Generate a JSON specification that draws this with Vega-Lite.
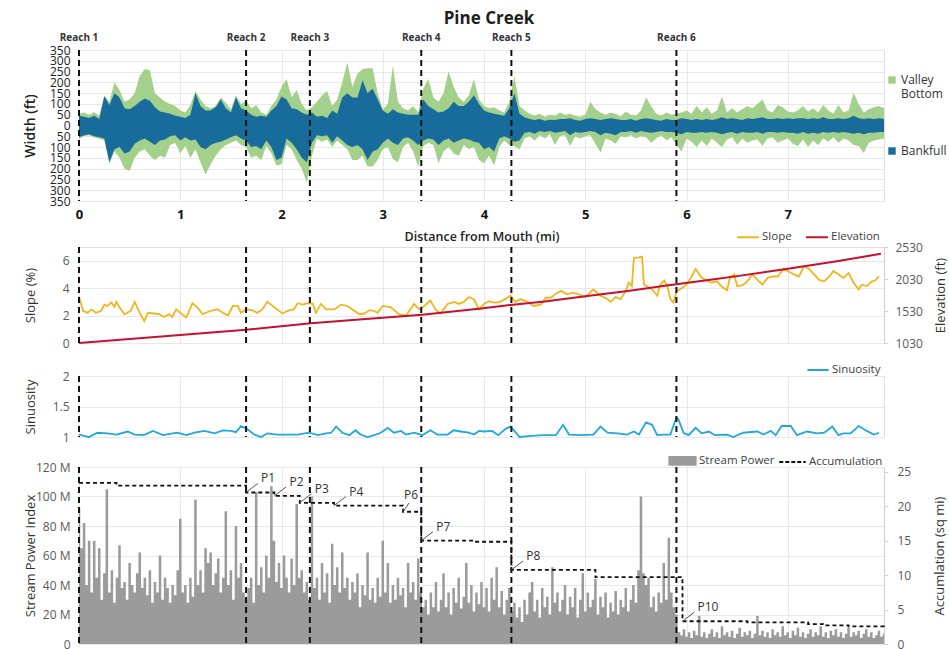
{
  "$schema": "https://vega.github.io/schema/vega-lite/v6.json",
  "padding": {"left": 22, "top": 10, "right": 2, "bottom": 0},
  "background": "white",
  "title": {"text": "Pine Creek", "fontSize": 17, "font": "Open Sans", "fontWeight": "bold", "color": "#1e1e1e", "anchor": "middle", "offset": 4, "dx": 4},
  "config": {
    "font": "Open Sans",
    "view": {"stroke": "#dedede", "strokeWidth": 1},
    "axis": {"labelFont": "Open Sans", "titleFont": "Open Sans", "labelColor": "#595959", "labelFontSize": 12, "titleColor": "#333333", "titleFontSize": 13, "titleFontWeight": "normal", "gridColor": "#e8e8e8", "domain": false, "ticks": false, "labelPadding": 9},
    "legend": {"labelFont": "Open Sans", "labelFontSize": 11.5, "labelColor": "#404040"}
  },
  "datasets": {
    "reaches": [{"d":0,"reach":"Reach 1"},{"d":1.65,"reach":"Reach 2"},{"d":2.28,"reach":"Reach 3"},{"d":3.38,"reach":"Reach 4"},{"d":4.27,"reach":"Reach 5"},{"d":5.9,"reach":"Reach 6"}],
    "width": [
      {"d":0.00,"vt":55,"vb":-60,"bt":45,"bb":-55},{"d":0.05,"vt":60,"vb":-50,"bt":40,"bb":-45},{"d":0.10,"vt":50,"vb":-45,"bt":35,"bb":-40},{"d":0.15,"vt":62,"vb":-55,"bt":45,"bb":-50},{"d":0.20,"vt":45,"vb":-62,"bt":30,"bb":-55},
      {"d":0.25,"vt":140,"vb":-70,"bt":135,"bb":-60},{"d":0.30,"vt":110,"vb":-175,"bt":95,"bb":-170},{"d":0.35,"vt":200,"vb":-120,"bt":150,"bb":-110},{"d":0.40,"vt":165,"vb":-150,"bt":130,"bb":-100},{"d":0.45,"vt":110,"vb":-200,"bt":80,"bb":-130},
      {"d":0.50,"vt":120,"vb":-210,"bt":75,"bb":-120},{"d":0.55,"vt":150,"vb":-150,"bt":90,"bb":-85},{"d":0.60,"vt":230,"vb":-120,"bt":110,"bb":-70},{"d":0.65,"vt":262,"vb":-110,"bt":125,"bb":-60},{"d":0.70,"vt":255,"vb":-140,"bt":115,"bb":-75},
      {"d":0.75,"vt":150,"vb":-160,"bt":85,"bb":-90},{"d":0.80,"vt":130,"vb":-140,"bt":65,"bb":-70},{"d":0.85,"vt":110,"vb":-150,"bt":60,"bb":-65},{"d":0.90,"vt":100,"vb":-90,"bt":55,"bb":-50},{"d":0.95,"vt":90,"vb":-80,"bt":45,"bb":-45},
      {"d":1.00,"vt":70,"vb":-130,"bt":40,"bb":-70},{"d":1.05,"vt":60,"vb":-95,"bt":35,"bb":-55},{"d":1.10,"vt":95,"vb":-150,"bt":50,"bb":-70},{"d":1.15,"vt":160,"vb":-110,"bt":150,"bb":-65},{"d":1.20,"vt":120,"vb":-170,"bt":90,"bb":-100},
      {"d":1.25,"vt":90,"vb":-228,"bt":70,"bb":-110},{"d":1.30,"vt":80,"vb":-180,"bt":70,"bb":-90},{"d":1.35,"vt":90,"vb":-140,"bt":85,"bb":-80},{"d":1.40,"vt":130,"vb":-110,"bt":120,"bb":-75},{"d":1.45,"vt":105,"vb":-90,"bt":80,"bb":-65},
      {"d":1.50,"vt":75,"vb":-80,"bt":60,"bb":-55},{"d":1.55,"vt":140,"vb":-70,"bt":130,"bb":-45},{"d":1.60,"vt":100,"vb":-90,"bt":80,"bb":-60},{"d":1.65,"vt":115,"vb":-100,"bt":70,"bb":-70},{"d":1.70,"vt":80,"vb":-150,"bt":50,"bb":-100},
      {"d":1.75,"vt":95,"vb":-140,"bt":40,"bb":-95},{"d":1.80,"vt":60,"vb":-160,"bt":45,"bb":-110},{"d":1.85,"vt":50,"vb":-95,"bt":40,"bb":-70},{"d":1.90,"vt":90,"vb":-130,"bt":70,"bb":-100},{"d":1.95,"vt":120,"vb":-185,"bt":90,"bb":-160},
      {"d":2.00,"vt":180,"vb":-180,"bt":135,"bb":-150},{"d":2.05,"vt":215,"vb":-90,"bt":120,"bb":-60},{"d":2.10,"vt":130,"vb":-110,"bt":80,"bb":-80},{"d":2.15,"vt":165,"vb":-160,"bt":75,"bb":-110},{"d":2.20,"vt":100,"vb":-200,"bt":60,"bb":-150},
      {"d":2.25,"vt":70,"vb":-265,"bt":50,"bb":-170},{"d":2.30,"vt":85,"vb":-140,"bt":60,"bb":-80},{"d":2.35,"vt":110,"vb":-60,"bt":40,"bb":-45},{"d":2.40,"vt":140,"vb":-75,"bt":45,"bb":-50},{"d":2.45,"vt":160,"vb":-65,"bt":35,"bb":-45},
      {"d":2.50,"vt":90,"vb":-100,"bt":70,"bb":-80},{"d":2.55,"vt":120,"vb":-70,"bt":55,"bb":-50},{"d":2.60,"vt":200,"vb":-90,"bt":130,"bb":-70},{"d":2.65,"vt":292,"vb":-110,"bt":150,"bb":-90},{"d":2.70,"vt":180,"vb":-160,"bt":130,"bb":-100},
      {"d":2.75,"vt":240,"vb":-160,"bt":130,"bb":-90},{"d":2.80,"vt":262,"vb":-140,"bt":210,"bb":-110},{"d":2.85,"vt":265,"vb":-190,"bt":150,"bb":-160},{"d":2.90,"vt":265,"vb":-190,"bt":170,"bb":-120},{"d":2.95,"vt":150,"vb":-160,"bt":120,"bb":-110},
      {"d":3.00,"vt":75,"vb":-110,"bt":70,"bb":-80},{"d":3.05,"vt":100,"vb":-100,"bt":55,"bb":-60},{"d":3.10,"vt":277,"vb":-155,"bt":75,"bb":-80},{"d":3.15,"vt":110,"vb":-170,"bt":60,"bb":-90},{"d":3.20,"vt":80,"vb":-100,"bt":55,"bb":-60},
      {"d":3.25,"vt":70,"vb":-80,"bt":50,"bb":-55},{"d":3.30,"vt":90,"vb":-120,"bt":50,"bb":-70},{"d":3.35,"vt":60,"vb":-190,"bt":50,"bb":-90},{"d":3.40,"vt":170,"vb":-95,"bt":120,"bb":-70},{"d":3.45,"vt":215,"vb":-80,"bt":90,"bb":-60},
      {"d":3.50,"vt":130,"vb":-90,"bt":75,"bb":-65},{"d":3.55,"vt":110,"vb":-175,"bt":60,"bb":-90},{"d":3.60,"vt":150,"vb":-120,"bt":65,"bb":-70},{"d":3.65,"vt":250,"vb":-100,"bt":80,"bb":-60},{"d":3.70,"vt":180,"vb":-130,"bt":110,"bb":-80},
      {"d":3.75,"vt":130,"vb":-140,"bt":90,"bb":-70},{"d":3.80,"vt":110,"vb":-90,"bt":90,"bb":-60},{"d":3.85,"vt":140,"vb":-110,"bt":110,"bb":-65},{"d":3.90,"vt":215,"vb":-100,"bt":140,"bb":-75},{"d":3.95,"vt":120,"vb":-160,"bt":100,"bb":-80},
      {"d":4.00,"vt":90,"vb":-175,"bt":70,"bb":-110},{"d":4.05,"vt":80,"vb":-140,"bt":60,"bb":-100},{"d":4.10,"vt":85,"vb":-185,"bt":55,"bb":-120},{"d":4.15,"vt":70,"vb":-100,"bt":50,"bb":-60},{"d":4.20,"vt":60,"vb":-70,"bt":45,"bb":-50},
      {"d":4.25,"vt":110,"vb":-90,"bt":80,"bb":-60},{"d":4.30,"vt":230,"vb":-95,"bt":150,"bb":-75},{"d":4.35,"vt":90,"vb":-110,"bt":55,"bb":-70},{"d":4.40,"vt":70,"vb":-60,"bt":38,"bb":-34},{"d":4.45,"vt":55,"vb":-50,"bt":30,"bb":-30},
      {"d":4.50,"vt":45,"vb":-70,"bt":26,"bb":-38},{"d":4.55,"vt":55,"vb":-45,"bt":30,"bb":-26},{"d":4.60,"vt":40,"vb":-60,"bt":22,"bb":-30},{"d":4.65,"vt":50,"vb":-40,"bt":27,"bb":-26},{"d":4.70,"vt":45,"vb":-90,"bt":26,"bb":-34},
      {"d":4.75,"vt":60,"vb":-50,"bt":30,"bb":-30},{"d":4.80,"vt":50,"vb":-45,"bt":30,"bb":-26},{"d":4.85,"vt":55,"vb":-95,"bt":34,"bb":-45},{"d":4.90,"vt":45,"vb":-50,"bt":26,"bb":-30},{"d":4.95,"vt":40,"vb":-60,"bt":22,"bb":-34},
      {"d":5.00,"vt":50,"vb":-50,"bt":30,"bb":-30},{"d":5.05,"vt":110,"vb":-45,"bt":34,"bb":-26},{"d":5.10,"vt":75,"vb":-85,"bt":30,"bb":-30},{"d":5.15,"vt":60,"vb":-125,"bt":26,"bb":-45},{"d":5.20,"vt":50,"vb":-60,"bt":30,"bb":-34},
      {"d":5.25,"vt":60,"vb":-70,"bt":34,"bb":-38},{"d":5.30,"vt":55,"vb":-85,"bt":30,"bb":-45},{"d":5.35,"vt":40,"vb":-50,"bt":26,"bb":-30},{"d":5.40,"vt":65,"vb":-55,"bt":26,"bb":-30},{"d":5.45,"vt":50,"vb":-45,"bt":30,"bb":-26},
      {"d":5.50,"vt":45,"vb":-60,"bt":22,"bb":-34},{"d":5.55,"vt":70,"vb":-50,"bt":30,"bb":-26},{"d":5.60,"vt":130,"vb":-55,"bt":34,"bb":-30},{"d":5.65,"vt":90,"vb":-80,"bt":30,"bb":-34},{"d":5.70,"vt":55,"vb":-60,"bt":26,"bb":-30},
      {"d":5.75,"vt":45,"vb":-45,"bt":22,"bb":-26},{"d":5.80,"vt":60,"vb":-70,"bt":30,"bb":-30},{"d":5.85,"vt":50,"vb":-55,"bt":26,"bb":-30},{"d":5.90,"vt":55,"vb":-90,"bt":26,"bb":-34},{"d":5.95,"vt":60,"vb":-120,"bt":34,"bb":-41},
      {"d":6.00,"vt":70,"vb":-60,"bt":30,"bb":-30},{"d":6.05,"vt":55,"vb":-75,"bt":26,"bb":-34},{"d":6.10,"vt":90,"vb":-100,"bt":30,"bb":-34},{"d":6.15,"vt":60,"vb":-70,"bt":26,"bb":-30},{"d":6.20,"vt":85,"vb":-95,"bt":30,"bb":-34},
      {"d":6.25,"vt":55,"vb":-60,"bt":26,"bb":-30},{"d":6.30,"vt":70,"vb":-80,"bt":30,"bb":-34},{"d":6.35,"vt":135,"vb":-100,"bt":38,"bb":-41},{"d":6.40,"vt":60,"vb":-65,"bt":30,"bb":-34},{"d":6.45,"vt":80,"vb":-55,"bt":34,"bb":-30},
      {"d":6.50,"vt":60,"vb":-90,"bt":30,"bb":-38},{"d":6.55,"vt":75,"vb":-60,"bt":26,"bb":-30},{"d":6.60,"vt":90,"vb":-80,"bt":34,"bb":-34},{"d":6.65,"vt":80,"vb":-70,"bt":30,"bb":-34},{"d":6.70,"vt":100,"vb":-65,"bt":34,"bb":-30},
      {"d":6.75,"vt":120,"vb":-95,"bt":38,"bb":-38},{"d":6.80,"vt":70,"vb":-60,"bt":30,"bb":-30},{"d":6.85,"vt":60,"vb":-55,"bt":30,"bb":-30},{"d":6.90,"vt":95,"vb":-80,"bt":34,"bb":-34},{"d":6.95,"vt":85,"vb":-70,"bt":30,"bb":-30},
      {"d":7.00,"vt":65,"vb":-60,"bt":34,"bb":-34},{"d":7.05,"vt":60,"vb":-85,"bt":30,"bb":-34},{"d":7.10,"vt":70,"vb":-95,"bt":34,"bb":-38},{"d":7.15,"vt":90,"vb":-65,"bt":34,"bb":-30},{"d":7.20,"vt":65,"vb":-100,"bt":30,"bb":-38},
      {"d":7.25,"vt":80,"vb":-70,"bt":34,"bb":-34},{"d":7.30,"vt":60,"vb":-90,"bt":30,"bb":-38},{"d":7.35,"vt":95,"vb":-60,"bt":38,"bb":-30},{"d":7.40,"vt":70,"vb":-75,"bt":30,"bb":-34},{"d":7.45,"vt":55,"vb":-55,"bt":30,"bb":-30},
      {"d":7.50,"vt":95,"vb":-80,"bt":34,"bb":-34},{"d":7.55,"vt":60,"vb":-60,"bt":30,"bb":-30},{"d":7.60,"vt":70,"vb":-70,"bt":34,"bb":-34},{"d":7.65,"vt":152,"vb":-90,"bt":45,"bb":-38},{"d":7.70,"vt":100,"vb":-95,"bt":34,"bb":-34},
      {"d":7.75,"vt":60,"vb":-128,"bt":30,"bb":-41},{"d":7.80,"vt":75,"vb":-80,"bt":34,"bb":-34},{"d":7.85,"vt":85,"vb":-70,"bt":30,"bb":-34},{"d":7.90,"vt":90,"vb":-65,"bt":34,"bb":-30},{"d":7.95,"vt":80,"vb":-60,"bt":30,"bb":-30}
    ],
    "slope": [
      {"d":0,"s":3.4},{"d":0.04,"s":2.35},{"d":0.085,"s":2.2},{"d":0.12,"s":2.45},{"d":0.17,"s":2.2},{"d":0.22,"s":2.35},{"d":0.25,"s":2.8},{"d":0.28,"s":2.7},{"d":0.32,"s":2.95},{"d":0.35,"s":2.65},{"d":0.37,"s":3.0},{"d":0.4,"s":2.6},{"d":0.45,"s":2.1},{"d":0.51,"s":2.35},{"d":0.55,"s":3.0},{"d":0.6,"s":2.2},{"d":0.645,"s":1.6},{"d":0.68,"s":2.2},{"d":0.74,"s":2.15},{"d":0.79,"s":2.1},{"d":0.84,"s":1.9},{"d":0.89,"s":2.1},{"d":0.92,"s":1.9},{"d":0.96,"s":2.45},{"d":1.0,"s":2.2},{"d":1.06,"s":1.85},{"d":1.12,"s":2.9},{"d":1.17,"s":2.6},{"d":1.22,"s":2.1},{"d":1.3,"s":2.35},{"d":1.37,"s":2.45},{"d":1.42,"s":2.2},{"d":1.47,"s":2.0},{"d":1.52,"s":2.7},{"d":1.57,"s":2.7},{"d":1.6,"s":2.2},{"d":1.65,"s":2.45},{"d":1.71,"s":2.4},{"d":1.76,"s":2.2},{"d":1.81,"s":2.45},{"d":1.86,"s":3.0},{"d":1.93,"s":2.6},{"d":2.01,"s":2.15},{"d":2.06,"s":2.35},{"d":2.12,"s":2.45},{"d":2.16,"s":2.9},{"d":2.21,"s":2.8},{"d":2.26,"s":2.9},{"d":2.31,"s":2.85},{"d":2.34,"s":2.2},{"d":2.39,"s":2.85},{"d":2.44,"s":2.45},{"d":2.52,"s":2.45},{"d":2.59,"s":2.8},{"d":2.65,"s":2.7},{"d":2.7,"s":2.45},{"d":2.77,"s":2.1},{"d":2.82,"s":2.15},{"d":2.87,"s":2.4},{"d":2.91,"s":2.35},{"d":2.95,"s":2.2},{"d":3.0,"s":2.7},{"d":3.08,"s":2.6},{"d":3.16,"s":2.1},{"d":3.23,"s":2.0},{"d":3.31,"s":2.85},{"d":3.36,"s":2.45},{"d":3.41,"s":2.7},{"d":3.47,"s":3.1},{"d":3.52,"s":2.45},{"d":3.57,"s":2.15},{"d":3.64,"s":2.85},{"d":3.71,"s":3.0},{"d":3.75,"s":2.85},{"d":3.8,"s":3.0},{"d":3.85,"s":3.35},{"d":3.9,"s":3.2},{"d":3.95,"s":2.45},{"d":4.0,"s":2.85},{"d":4.05,"s":3.05},{"d":4.1,"s":2.95},{"d":4.16,"s":3.0},{"d":4.21,"s":3.2},{"d":4.26,"s":3.45},{"d":4.31,"s":3.0},{"d":4.36,"s":3.2},{"d":4.43,"s":3.0},{"d":4.49,"s":2.7},{"d":4.56,"s":2.8},{"d":4.61,"s":3.3},{"d":4.66,"s":3.3},{"d":4.71,"s":3.6},{"d":4.76,"s":3.8},{"d":4.82,"s":3.55},{"d":4.87,"s":3.65},{"d":4.92,"s":3.6},{"d":5.0,"s":3.35},{"d":5.08,"s":3.9},{"d":5.15,"s":3.45},{"d":5.22,"s":3.2},{"d":5.25,"s":3.0},{"d":5.3,"s":3.35},{"d":5.35,"s":3.2},{"d":5.4,"s":3.8},{"d":5.43,"s":4.4},{"d":5.46,"s":4.15},{"d":5.48,"s":6.2},{"d":5.53,"s":6.25},{"d":5.56,"s":6.3},{"d":5.58,"s":4.25},{"d":5.61,"s":4.15},{"d":5.66,"s":3.9},{"d":5.71,"s":3.45},{"d":5.74,"s":4.25},{"d":5.78,"s":4.55},{"d":5.81,"s":4.15},{"d":5.84,"s":3.2},{"d":5.87,"s":2.95},{"d":5.9,"s":3.75},{"d":5.95,"s":4.0},{"d":6.0,"s":4.25},{"d":6.05,"s":4.85},{"d":6.09,"s":5.4},{"d":6.14,"s":4.85},{"d":6.19,"s":4.6},{"d":6.24,"s":4.4},{"d":6.3,"s":4.5},{"d":6.35,"s":4.1},{"d":6.4,"s":3.85},{"d":6.43,"s":4.8},{"d":6.47,"s":5.0},{"d":6.5,"s":4.15},{"d":6.55,"s":4.2},{"d":6.6,"s":4.5},{"d":6.65,"s":5.0},{"d":6.7,"s":4.6},{"d":6.75,"s":4.25},{"d":6.8,"s":4.75},{"d":6.85,"s":4.85},{"d":6.9,"s":4.85},{"d":6.96,"s":5.4},{"d":7.01,"s":5.2},{"d":7.06,"s":5.0},{"d":7.11,"s":4.85},{"d":7.16,"s":5.6},{"d":7.21,"s":5.4},{"d":7.26,"s":5.0},{"d":7.31,"s":4.6},{"d":7.36,"s":4.5},{"d":7.41,"s":4.85},{"d":7.45,"s":5.25},{"d":7.5,"s":5.0},{"d":7.55,"s":4.75},{"d":7.6,"s":5.1},{"d":7.65,"s":4.4},{"d":7.7,"s":3.9},{"d":7.73,"s":4.25},{"d":7.78,"s":4.15},{"d":7.83,"s":4.5},{"d":7.86,"s":4.55},{"d":7.9,"s":4.85}
    ],
    "elev": [
      {"d":0,"e":1030},{"d":0.5,"e":1092},{"d":1.0,"e":1155},{"d":1.65,"e":1237},{"d":2.29,"e":1340},{"d":2.8,"e":1400},{"d":3.39,"e":1470},{"d":3.97,"e":1570},{"d":4.26,"e":1625},{"d":4.6,"e":1680},{"d":5.02,"e":1765},{"d":5.4,"e":1840},{"d":5.84,"e":1935},{"d":6.2,"e":2010},{"d":6.5,"e":2075},{"d":7.0,"e":2190},{"d":7.5,"e":2310},{"d":7.92,"e":2425}
    ],
    "sin": [
      {"d":0,"n":1.04},{"d":0.1,"n":1.0},{"d":0.18,"n":1.07},{"d":0.28,"n":1.06},{"d":0.37,"n":1.04},{"d":0.48,"n":1.09},{"d":0.55,"n":1.04},{"d":0.64,"n":1.03},{"d":0.73,"n":1.1},{"d":0.83,"n":1.03},{"d":0.97,"n":1.07},{"d":1.06,"n":1.03},{"d":1.14,"n":1.07},{"d":1.24,"n":1.1},{"d":1.34,"n":1.06},{"d":1.42,"n":1.11},{"d":1.5,"n":1.1},{"d":1.55,"n":1.08},{"d":1.6,"n":1.18},{"d":1.66,"n":1.13},{"d":1.73,"n":1.04},{"d":1.8,"n":1.0},{"d":1.86,"n":1.06},{"d":1.96,"n":1.04},{"d":2.06,"n":1.04},{"d":2.16,"n":1.04},{"d":2.27,"n":1.07},{"d":2.36,"n":1.03},{"d":2.44,"n":1.06},{"d":2.49,"n":1.07},{"d":2.54,"n":1.17},{"d":2.6,"n":1.07},{"d":2.67,"n":1.03},{"d":2.73,"n":1.11},{"d":2.78,"n":1.04},{"d":2.85,"n":1.0},{"d":2.93,"n":1.04},{"d":2.98,"n":1.07},{"d":3.05,"n":1.15},{"d":3.11,"n":1.07},{"d":3.18,"n":1.1},{"d":3.23,"n":1.04},{"d":3.31,"n":1.07},{"d":3.39,"n":1.03},{"d":3.47,"n":1.11},{"d":3.54,"n":1.04},{"d":3.64,"n":1.04},{"d":3.7,"n":1.11},{"d":3.77,"n":1.09},{"d":3.85,"n":1.07},{"d":3.9,"n":1.04},{"d":3.95,"n":1.1},{"d":4.0,"n":1.09},{"d":4.08,"n":1.1},{"d":4.14,"n":1.03},{"d":4.21,"n":1.13},{"d":4.26,"n":1.17},{"d":4.3,"n":1.1},{"d":4.35,"n":1.0},{"d":4.46,"n":1.02},{"d":4.59,"n":1.03},{"d":4.71,"n":1.03},{"d":4.78,"n":1.2},{"d":4.84,"n":1.04},{"d":4.95,"n":1.03},{"d":5.08,"n":1.04},{"d":5.15,"n":1.17},{"d":5.22,"n":1.07},{"d":5.32,"n":1.06},{"d":5.41,"n":1.04},{"d":5.48,"n":1.09},{"d":5.53,"n":1.04},{"d":5.6,"n":1.24},{"d":5.66,"n":1.2},{"d":5.71,"n":1.03},{"d":5.78,"n":1.04},{"d":5.84,"n":1.04},{"d":5.9,"n":1.32},{"d":5.92,"n":1.29},{"d":5.97,"n":1.07},{"d":6.02,"n":1.03},{"d":6.09,"n":1.15},{"d":6.15,"n":1.06},{"d":6.22,"n":1.09},{"d":6.28,"n":1.03},{"d":6.4,"n":1.04},{"d":6.46,"n":1.0},{"d":6.56,"n":1.07},{"d":6.7,"n":1.09},{"d":6.76,"n":1.04},{"d":6.83,"n":1.1},{"d":6.88,"n":1.03},{"d":6.94,"n":1.18},{"d":7.03,"n":1.18},{"d":7.09,"n":1.03},{"d":7.19,"n":1.09},{"d":7.29,"n":1.06},{"d":7.36,"n":1.07},{"d":7.44,"n":1.17},{"d":7.5,"n":1.03},{"d":7.55,"n":1.06},{"d":7.62,"n":1.06},{"d":7.7,"n":1.18},{"d":7.78,"n":1.1},{"d":7.85,"n":1.04},{"d":7.9,"n":1.07}
    ],
    "power": [
      {"d":0.000,"p":92},{"d":0.025,"p":65},{"d":0.050,"p":82},{"d":0.075,"p":40},{"d":0.100,"p":70},{"d":0.125,"p":35},{"d":0.150,"p":70},{"d":0.175,"p":45},{"d":0.200,"p":65},{"d":0.225,"p":30},{"d":0.250,"p":48},{"d":0.275,"p":105},{"d":0.300,"p":35},{"d":0.325,"p":50},{"d":0.350,"p":28},{"d":0.375,"p":45},{"d":0.400,"p":67},{"d":0.425,"p":38},{"d":0.450,"p":42},{"d":0.475,"p":30},
      {"d":0.500,"p":55},{"d":0.525,"p":40},{"d":0.550,"p":35},{"d":0.575,"p":48},{"d":0.600,"p":62},{"d":0.625,"p":38},{"d":0.650,"p":45},{"d":0.675,"p":33},{"d":0.700,"p":50},{"d":0.725,"p":28},{"d":0.750,"p":42},{"d":0.775,"p":35},{"d":0.800,"p":60},{"d":0.825,"p":30},{"d":0.850,"p":45},{"d":0.875,"p":38},{"d":0.900,"p":28},{"d":0.925,"p":40},{"d":0.950,"p":33},{"d":0.975,"p":50},
      {"d":1.000,"p":85},{"d":1.025,"p":35},{"d":1.050,"p":40},{"d":1.075,"p":28},{"d":1.100,"p":45},{"d":1.125,"p":32},{"d":1.150,"p":98},{"d":1.175,"p":40},{"d":1.200,"p":50},{"d":1.225,"p":35},{"d":1.250,"p":65},{"d":1.275,"p":55},{"d":1.300,"p":62},{"d":1.325,"p":40},{"d":1.350,"p":48},{"d":1.375,"p":58},{"d":1.400,"p":35},{"d":1.425,"p":45},{"d":1.450,"p":90},{"d":1.475,"p":40},
      {"d":1.500,"p":50},{"d":1.525,"p":30},{"d":1.550,"p":80},{"d":1.575,"p":45},{"d":1.600,"p":55},{"d":1.625,"p":35},{"d":1.650,"p":30},{"d":1.675,"p":38},{"d":1.700,"p":45},{"d":1.725,"p":28},{"d":1.750,"p":103},{"d":1.775,"p":40},{"d":1.800,"p":52},{"d":1.825,"p":35},{"d":1.850,"p":60},{"d":1.875,"p":45},{"d":1.900,"p":107},{"d":1.925,"p":70},{"d":1.950,"p":42},{"d":1.975,"p":55},
      {"d":2.000,"p":38},{"d":2.025,"p":60},{"d":2.050,"p":45},{"d":2.075,"p":35},{"d":2.100,"p":58},{"d":2.125,"p":40},{"d":2.150,"p":95},{"d":2.175,"p":45},{"d":2.200,"p":50},{"d":2.225,"p":35},{"d":2.250,"p":42},{"d":2.275,"p":30},{"d":2.300,"p":100},{"d":2.325,"p":38},{"d":2.350,"p":45},{"d":2.375,"p":30},{"d":2.400,"p":55},{"d":2.425,"p":35},{"d":2.450,"p":48},{"d":2.475,"p":28},
      {"d":2.500,"p":68},{"d":2.525,"p":40},{"d":2.550,"p":52},{"d":2.575,"p":35},{"d":2.600,"p":62},{"d":2.625,"p":38},{"d":2.650,"p":45},{"d":2.675,"p":30},{"d":2.700,"p":42},{"d":2.725,"p":35},{"d":2.750,"p":48},{"d":2.775,"p":25},{"d":2.800,"p":40},{"d":2.825,"p":33},{"d":2.850,"p":62},{"d":2.875,"p":30},{"d":2.900,"p":38},{"d":2.925,"p":28},{"d":2.950,"p":45},{"d":2.975,"p":32},
      {"d":3.000,"p":70},{"d":3.025,"p":35},{"d":3.050,"p":55},{"d":3.075,"p":28},{"d":3.100,"p":40},{"d":3.125,"p":30},{"d":3.150,"p":45},{"d":3.175,"p":33},{"d":3.200,"p":38},{"d":3.225,"p":25},{"d":3.250,"p":55},{"d":3.275,"p":35},{"d":3.300,"p":42},{"d":3.325,"p":30},{"d":3.350,"p":58},{"d":3.375,"p":35},{"d":3.400,"p":25},{"d":3.425,"p":30},{"d":3.450,"p":20},{"d":3.475,"p":35},
      {"d":3.500,"p":25},{"d":3.525,"p":42},{"d":3.550,"p":22},{"d":3.575,"p":30},{"d":3.600,"p":48},{"d":3.625,"p":25},{"d":3.650,"p":35},{"d":3.675,"p":20},{"d":3.700,"p":38},{"d":3.725,"p":28},{"d":3.750,"p":45},{"d":3.775,"p":24},{"d":3.800,"p":32},{"d":3.825,"p":55},{"d":3.850,"p":28},{"d":3.875,"p":40},{"d":3.900,"p":22},{"d":3.925,"p":35},{"d":3.950,"p":27},{"d":3.975,"p":42},
      {"d":4.000,"p":25},{"d":4.025,"p":38},{"d":4.050,"p":22},{"d":4.075,"p":45},{"d":4.100,"p":30},{"d":4.125,"p":52},{"d":4.150,"p":25},{"d":4.175,"p":36},{"d":4.200,"p":20},{"d":4.225,"p":30},{"d":4.250,"p":38},{"d":4.275,"p":22},{"d":4.300,"p":28},{"d":4.325,"p":18},{"d":4.350,"p":25},{"d":4.375,"p":15},{"d":4.400,"p":30},{"d":4.425,"p":20},{"d":4.450,"p":35},{"d":4.475,"p":42},
      {"d":4.500,"p":22},{"d":4.525,"p":30},{"d":4.550,"p":18},{"d":4.575,"p":38},{"d":4.600,"p":25},{"d":4.625,"p":32},{"d":4.650,"p":20},{"d":4.675,"p":52},{"d":4.700,"p":28},{"d":4.725,"p":35},{"d":4.750,"p":22},{"d":4.775,"p":30},{"d":4.800,"p":40},{"d":4.825,"p":20},{"d":4.850,"p":32},{"d":4.875,"p":25},{"d":4.900,"p":38},{"d":4.925,"p":18},{"d":4.950,"p":30},{"d":4.975,"p":48},
      {"d":5.000,"p":22},{"d":5.025,"p":35},{"d":5.050,"p":25},{"d":5.075,"p":30},{"d":5.100,"p":44},{"d":5.125,"p":20},{"d":5.150,"p":32},{"d":5.175,"p":25},{"d":5.200,"p":35},{"d":5.225,"p":18},{"d":5.250,"p":28},{"d":5.275,"p":22},{"d":5.300,"p":36},{"d":5.325,"p":20},{"d":5.350,"p":30},{"d":5.375,"p":25},{"d":5.400,"p":38},{"d":5.425,"p":22},{"d":5.450,"p":30},{"d":5.475,"p":40},
      {"d":5.500,"p":28},{"d":5.525,"p":50},{"d":5.550,"p":100},{"d":5.575,"p":48},{"d":5.600,"p":40},{"d":5.625,"p":45},{"d":5.650,"p":25},{"d":5.675,"p":32},{"d":5.700,"p":22},{"d":5.725,"p":35},{"d":5.750,"p":28},{"d":5.775,"p":55},{"d":5.800,"p":30},{"d":5.825,"p":72},{"d":5.850,"p":35},{"d":5.875,"p":25},{"d":5.900,"p":20},{"d":5.925,"p":8},{"d":5.950,"p":6},{"d":5.975,"p":10},
      {"d":6.000,"p":5},{"d":6.025,"p":8},{"d":6.050,"p":4},{"d":6.075,"p":9},{"d":6.100,"p":6},{"d":6.125,"p":19},{"d":6.150,"p":5},{"d":6.175,"p":8},{"d":6.200,"p":4},{"d":6.225,"p":7},{"d":6.250,"p":10},{"d":6.275,"p":5},{"d":6.300,"p":8},{"d":6.325,"p":4},{"d":6.350,"p":12},{"d":6.375,"p":6},{"d":6.400,"p":8},{"d":6.425,"p":5},{"d":6.450,"p":9},{"d":6.475,"p":4},
      {"d":6.500,"p":7},{"d":6.525,"p":11},{"d":6.550,"p":5},{"d":6.575,"p":8},{"d":6.600,"p":6},{"d":6.625,"p":9},{"d":6.650,"p":4},{"d":6.675,"p":7},{"d":6.700,"p":19},{"d":6.725,"p":6},{"d":6.750,"p":9},{"d":6.775,"p":5},{"d":6.800,"p":8},{"d":6.825,"p":4},{"d":6.850,"p":10},{"d":6.875,"p":6},{"d":6.900,"p":8},{"d":6.925,"p":5},{"d":6.950,"p":12},{"d":6.975,"p":6},
      {"d":7.000,"p":8},{"d":7.025,"p":4},{"d":7.050,"p":9},{"d":7.075,"p":6},{"d":7.100,"p":11},{"d":7.125,"p":5},{"d":7.150,"p":8},{"d":7.175,"p":4},{"d":7.200,"p":7},{"d":7.225,"p":10},{"d":7.250,"p":5},{"d":7.275,"p":8},{"d":7.300,"p":6},{"d":7.325,"p":12},{"d":7.350,"p":5},{"d":7.375,"p":8},{"d":7.400,"p":4},{"d":7.425,"p":9},{"d":7.450,"p":6},{"d":7.475,"p":10},
      {"d":7.500,"p":5},{"d":7.525,"p":8},{"d":7.550,"p":4},{"d":7.575,"p":7},{"d":7.600,"p":11},{"d":7.625,"p":5},{"d":7.650,"p":8},{"d":7.675,"p":6},{"d":7.700,"p":9},{"d":7.725,"p":4},{"d":7.750,"p":7},{"d":7.775,"p":10},{"d":7.800,"p":5},{"d":7.825,"p":8},{"d":7.850,"p":4},{"d":7.875,"p":6},{"d":7.900,"p":9},{"d":7.925,"p":5},{"d":7.950,"p":7}
    ],
    "accum": [
      {"d":0,"a":23.4},{"d":0.37,"a":23.0},{"d":1.65,"a":22.0},{"d":1.93,"a":21.5},{"d":2.18,"a":20.5},{"d":2.52,"a":20.1},{"d":3.2,"a":19.2},{"d":3.38,"a":15.0},{"d":3.9,"a":14.85},{"d":4.27,"a":10.75},{"d":5.1,"a":9.7},{"d":5.96,"a":3.3},{"d":6.6,"a":3.15},{"d":7.2,"a":2.9},{"d":7.35,"a":2.7},{"d":7.6,"a":2.55},{"d":7.95,"a":2.5}
    ],
    "points": [
      {"d":1.65,"a":22.0,"label":"P1"},{"d":1.93,"a":21.5,"label":"P2"},{"d":2.18,"a":20.5,"label":"P3"},{"d":2.52,"a":20.1,"label":"P4"},{"d":3.2,"a":19.2,"label":"P6"},{"d":3.38,"a":15.0,"label":"P7"},{"d":4.27,"a":10.75,"label":"P8"},{"d":5.96,"a":3.3,"label":"P10"}
    ]
  },
  "spacing": -19,
  "resolve": {"scale": {"color": "independent"}, "legend": {"color": "independent"}},
  "vconcat": [
    {
      "width": 805,
      "height": 151,
      "layer": [
        {
          "data": {"name": "width"},
          "mark": {"type": "area"},
          "encoding": {
            "x": {"field": "d", "type": "quantitative", "scale": {"domain": [0, 7.95], "nice": false},
              "axis": {"values": [0,1,2,3,4,5,6,7], "format": "d", "labelFontWeight": "bold", "labelColor": "#111111", "labelFontSize": 13, "labelPadding": 7, "labelFlush": false, "grid": true, "title": "Distance from Mouth (mi)", "titleFontWeight": 600, "titleFontSize": 12.5, "titleColor": "#222222", "titlePadding": 9}},
            "y": {"field": "vt", "type": "quantitative", "scale": {"domain": [-350, 350], "nice": false},
              "axis": {"values": [-350,-300,-250,-200,-150,-100,-50,0,50,100,150,200,250,300,350], "tickCount": 30, "labelExpr": "abs(datum.value)", "labelOverlap": false, "labelFontSize": 12, "labelColor": "#222222", "labelPadding": 9, "grid": true, "title": "Width (ft)", "titleFontWeight": 600, "titleFontSize": 14, "titleColor": "#222222", "titleX": -49, "titleBaseline": "middle"}},
            "y2": {"field": "vb"},
            "color": {"datum": "Valley Bottom", "scale": {"domain": ["Valley Bottom", "Bankfull"], "range": ["#a3d08a", "#176c9c"]},
              "legend": {"orient": "none", "legendX": 807, "legendY": 24, "title": null, "symbolType": "square", "symbolSize": 55, "symbolStrokeWidth": 0, "rowPadding": 45, "labelOffset": 3, "labelFontSize": 12, "labelColor": "#333333", "labelExpr": "datum.label == 'Valley Bottom' ? ['Valley', 'Bottom'] : datum.label"}}
          }
        },
        {
          "data": {"name": "width"},
          "mark": {"type": "area"},
          "encoding": {
            "x": {"field": "d", "type": "quantitative"},
            "y": {"field": "bt", "type": "quantitative"},
            "y2": {"field": "bb"},
            "color": {"datum": "Bankfull"}
          }
        },
        {
          "data": {"name": "reaches"},
          "mark": {"type": "rule", "strokeDash": [6, 4], "strokeWidth": 2, "color": "#111111"},
          "encoding": {"x": {"field": "d", "type": "quantitative"}}
        },
        {
          "data": {"name": "reaches"},
          "mark": {"type": "text", "fontSize": 10, "fontWeight": "bold", "color": "#333333", "baseline": "middle"},
          "encoding": {"x": {"field": "d", "type": "quantitative"}, "y": {"datum": 406}, "text": {"field": "reach"}}
        }
      ]
    },
    {
      "spacing": 7,
      "resolve": {"scale": {"color": "independent"}, "legend": {"color": "independent"}},
      "vconcat": [
        {
          "width": 805,
          "height": 96,
          "layer": [
            {
              "data": {"name": "slope"},
              "mark": {"type": "line", "strokeWidth": 1.8},
              "encoding": {
                "x": {"field": "d", "type": "quantitative", "scale": {"domain": [0, 7.95], "nice": false}, "axis": {"values": [0,1,2,3,4,5,6,7], "labels": false, "title": null, "grid": true}},
                "y": {"field": "s", "type": "quantitative", "scale": {"domain": [0, 7], "nice": false}, "axis": {"values": [0,2,4,6], "format": "d", "title": "Slope (%)", "titleX": -49, "titleBaseline": "middle", "labelPadding": 10}},
                "color": {"datum": "Slope", "scale": {"domain": ["Slope", "Elevation"], "range": ["#f2b51b", "#c8102e"]},
                  "legend": {"orient": "none", "legendX": 657, "legendY": -22, "direction": "horizontal", "title": null, "symbolType": "stroke", "symbolSize": 480, "symbolStrokeWidth": 2, "columnPadding": 10, "labelOffset": 2}}
              }
            },
            {
              "data": {"name": "elev"},
              "mark": {"type": "line", "strokeWidth": 2},
              "encoding": {
                "x": {"field": "d", "type": "quantitative"},
                "y": {"field": "e", "type": "quantitative", "scale": {"domain": [1030, 2530], "nice": false, "zero": false},
                  "axis": {"orient": "right", "values": [1030,1530,2030,2530], "format": "d", "grid": false, "domain": true, "domainColor": "#d0d0d0", "ticks": true, "tickColor": "#d0d0d0", "tickSize": 4, "labelPadding": 7, "title": "Elevation (ft)", "titleAngle": -90, "titleX": 56, "titleBaseline": "middle"}},
                "color": {"datum": "Elevation"}
              }
            },
            {
              "data": {"name": "reaches"},
              "mark": {"type": "rule", "strokeDash": [6, 4], "strokeWidth": 2, "color": "#111111"},
              "encoding": {"x": {"field": "d", "type": "quantitative"}}
            }
          ],
          "resolve": {"scale": {"y": "independent"}}
        },
        {
          "spacing": 1,
          "resolve": {"scale": {"color": "independent"}, "legend": {"color": "independent"}},
          "vconcat": [
            {
              "width": 805,
              "height": 61,
              "layer": [
                {
                  "data": {"name": "sin"},
                  "mark": {"type": "line", "strokeWidth": 1.8},
                  "encoding": {
                    "x": {"field": "d", "type": "quantitative", "scale": {"domain": [0, 7.95], "nice": false}, "axis": {"values": [0,1,2,3,4,5,6,7], "labels": false, "title": null, "grid": true}},
                    "y": {"field": "n", "type": "quantitative", "scale": {"domain": [1, 2], "nice": false, "zero": false}, "axis": {"values": [1, 1.5, 2], "format": "~g", "title": "Sinuosity", "titleX": -49, "titleBaseline": "middle", "labelPadding": 10}},
                    "color": {"datum": "Sinuosity", "scale": {"domain": ["Sinuosity"], "range": ["#1fa8e0"]},
                      "legend": {"orient": "none", "legendX": 727, "legendY": -18, "direction": "horizontal", "title": null, "symbolType": "stroke", "symbolSize": 450, "symbolStrokeWidth": 2, "labelOffset": 2}}
                  }
                },
                {
                  "data": {"name": "reaches"},
                  "mark": {"type": "rule", "strokeDash": [6, 4], "strokeWidth": 2, "color": "#111111"},
                  "encoding": {"x": {"field": "d", "type": "quantitative"}}
                }
              ]
            },
            {
              "width": 805,
              "height": 177,
              "layer": [
                {
                  "data": {"name": "power"},
                  "mark": {"type": "area", "interpolate": "step"},
                  "encoding": {
                    "x": {"field": "d", "type": "quantitative", "scale": {"domain": [0, 7.95], "nice": false}, "axis": {"values": [0,1,2,3,4,5,6,7], "labels": false, "title": null, "grid": true}},
                    "y": {"field": "p", "type": "quantitative", "scale": {"domain": [0, 120], "nice": false}, "axis": {"values": [0,20,40,60,80,100,120], "labelExpr": "datum.value == 0 ? '0' : datum.value + ' M'", "title": "Stream Power Index", "titleX": -49, "titleBaseline": "middle", "labelPadding": 9}},
                    "color": {"datum": "Stream Power", "scale": {"domain": ["Stream Power", "Accumulation"], "range": ["#9b9b9b", "#111111"]},
                      "legend": {"orient": "none", "legendX": 589, "legendY": -21, "direction": "horizontal", "title": null, "symbolSize": 700, "columnPadding": 0, "labelOffset": 2,
                        "encode": {"symbols": {"update": {
                          "shape": {"signal": "datum.value === 'Accumulation' ? 'stroke' : 'M-1,-0.3H1V0.3H-1Z'"},
                          "fill": {"signal": "datum.value === 'Accumulation' ? 'transparent' : '#9b9b9b'"},
                          "stroke": {"signal": "datum.value === 'Accumulation' ? '#111111' : 'transparent'"},
                          "strokeDash": {"signal": "datum.value === 'Accumulation' ? [4, 2] : [1, 0]"},
                          "strokeWidth": {"value": 1.8}
                        }}}}}
                  }
                },
                {
                  "data": {"name": "reaches"},
                  "mark": {"type": "rule", "strokeDash": [6, 4], "strokeWidth": 2, "color": "#111111"},
                  "encoding": {"x": {"field": "d", "type": "quantitative"}}
                },
                {
                  "layer": [
                    {
                      "data": {"name": "accum"},
                      "mark": {"type": "line", "interpolate": "step-after", "strokeDash": [4, 3], "strokeWidth": 1.8},
                      "encoding": {
                        "x": {"field": "d", "type": "quantitative"},
                        "y": {"field": "a", "type": "quantitative", "scale": {"domain": [0, 25.7], "nice": false},
                          "axis": {"orient": "right", "values": [0,5,10,15,20,25], "tickCount": 30, "format": "d", "grid": false, "domain": true, "domainColor": "#d0d0d0", "ticks": true, "tickColor": "#d0d0d0", "tickSize": 4, "labelPadding": 9, "title": "Accumlation (sq mi)", "titleAngle": -90, "titleX": 55, "titleBaseline": "middle"}},
                        "color": {"datum": "Accumulation"}
                      }
                    },
                    {
                      "data": {"name": "points"},
                      "transform": [{"calculate": "datum.label == 'P6' ? datum.d + 0.06 : datum.d + 0.115", "as": "d2"}, {"calculate": "datum.a + 1.3", "as": "a2"}],
                      "mark": {"type": "rule", "color": "#555555", "strokeWidth": 1},
                      "encoding": {
                        "x": {"field": "d", "type": "quantitative"},
                        "x2": {"field": "d2"},
                        "y": {"field": "a", "type": "quantitative"},
                        "y2": {"field": "a2"}
                      }
                    },
                    {
                      "data": {"name": "points"},
                      "transform": [{"filter": "datum.label != 'P6'"}],
                      "mark": {"type": "text", "align": "left", "baseline": "middle", "dx": 15, "dy": -14, "fontSize": 12, "color": "#333333"},
                      "encoding": {
                        "x": {"field": "d", "type": "quantitative"},
                        "y": {"field": "a", "type": "quantitative"},
                        "text": {"field": "label"}
                      }
                    },
                    {
                      "data": {"name": "points"},
                      "transform": [{"filter": "datum.label == 'P6'"}],
                      "mark": {"type": "text", "align": "left", "baseline": "middle", "dx": 1, "dy": -17, "fontSize": 12, "color": "#333333"},
                      "encoding": {
                        "x": {"field": "d", "type": "quantitative"},
                        "y": {"field": "a", "type": "quantitative"},
                        "text": {"field": "label"}
                      }
                    }
                  ]
                }
              ],
              "resolve": {"scale": {"y": "independent"}}
            }
          ]
        }
      ]
    }
  ]
}
